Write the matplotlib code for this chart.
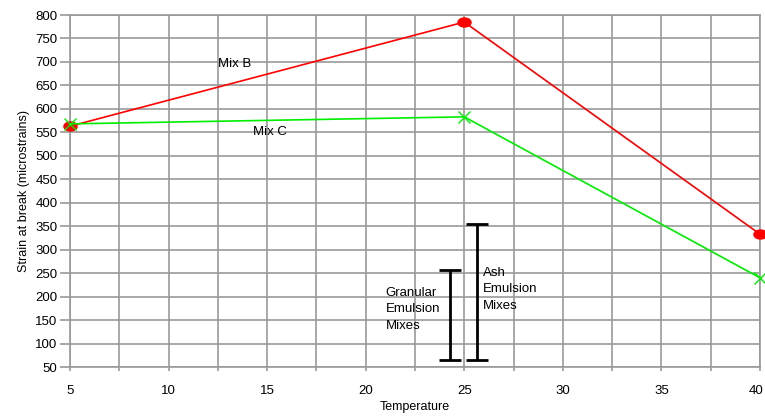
import matplotlib
matplotlib.use("Agg")
from matplotlib import pyplot as plt
from matplotlib.markers import MarkerStyle
from matplotlib.transforms import Affine2D, ScaledTranslation
import numpy as np

# data
temps = [5, 25, 40]
mix_b = [563, 785, 333]
mix_c = [568, 583, 240]

# ranges for the two mix groups (drawn as I-bars)
range_x = [24.3, 25.65]
range_lo = [64, 64]
range_hi = [257, 355]
range_names = ["Granular\nEmulsion\nMixes", "Ash\nEmulsion\nMixes"]

xticks = [5, 10, 15, 20, 25, 30, 35, 40]
yticks = list(range(50, 801, 50))

plt.rcParams['font.family'] = ['Liberation Sans', 'DejaVu Sans']

fig = plt.figure(figsize=(7.65, 4.17), dpi=100)
ax = fig.add_axes([70/765, 1-367/417, 690/765, 352/417])

grid_col = "#999999"
ax.set_xlim(5, 40)
ax.set_ylim(50, 800)
ax.set_xticks(xticks)
ax.set_xticks(np.arange(7.5, 40, 5), minor=True)
ax.set_yticks(yticks)
ax.grid(True, which="both", color=grid_col, linewidth=1.2)
ax.set_axisbelow(True)
for s in ax.spines.values():
    s.set_color(grid_col)
    s.set_linewidth(1.2)
ax.tick_params(axis="y", length=7, color=grid_col, width=1.2, labelsize=9.5, pad=2)
ax.tick_params(axis="x", which="both", length=3, color=grid_col, width=1.2, labelsize=9.5, pad=10)

# lines
oval = MarkerStyle("o", transform=Affine2D().scale(1.45, 1.0))
ax.plot(temps, mix_b, color="red", linewidth=1.2, marker=oval, markersize=6.5,
        markeredgecolor="red", clip_on=False, zorder=3)
ax.plot(temps, mix_c, color="#00ee00", linewidth=1.2, marker="x", markersize=8,
        markeredgewidth=1.0, clip_on=False, zorder=3)

ax.text(12.5, 695, "Mix B", fontsize=9.5, ha="left", va="center")
ax.text(14.3, 551, "Mix C", fontsize=9.5, ha="left", va="center")

# I-bars
for xv, lo, hi in zip(range_x, range_lo, range_hi):
    ax.errorbar([xv], [(lo + hi) / 2], yerr=[[(hi - lo) / 2]], fmt="none",
                ecolor="black", elinewidth=2, capsize=8, capthick=2, zorder=4)
ax.text(21.0, 173, range_names[0], fontsize=9.5, ha="left", va="center", linespacing=1.5)
ax.text(25.95, 216, range_names[1], fontsize=9.5, ha="left", va="center", linespacing=1.5)

ax.set_xlabel("Temperature", fontsize=9, labelpad=3)
ax.set_ylabel("Strain at break (microstrains)", fontsize=9, labelpad=4)

# last x label sits just inside the figure edge
fig.canvas.draw()
last = ax.get_xticklabels()[-1]
last.set_transform(last.get_transform() + ScaledTranslation(-4/100, 0, fig.dpi_scale_trans))

fig.savefig("out.png", dpi=100)
